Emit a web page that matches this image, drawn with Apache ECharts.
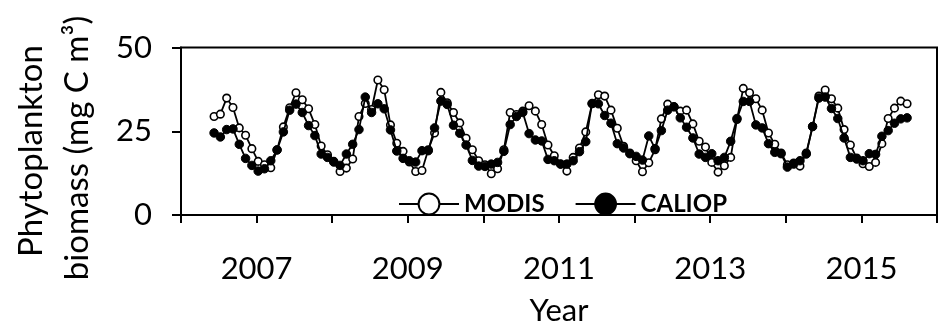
<!DOCTYPE html>
<html>
<head>
<meta charset="utf-8">
<script src="https://cdn.jsdelivr.net/npm/echarts@6/dist/echarts.min.js"></script>
<style>
  html, body { margin: 0; padding: 0; background: #fff; }
  #chart { width: 940px; height: 331px; }
</style>
</head>
<body>
<div id="chart"></div>
<script>
// Monthly phytoplankton biomass (mg C m^-3), June 2006 - August 2015
const startYear = 2006;
const startMonth = 6;

const modis = [
  29.4, 30.1, 34.9, 32.1, 26.0, 23.8, 19.8,
  16.0, 15.0, 14.1, 19.5, 26.3, 32.0, 36.5, 34.4, 31.7, 27.0, 20.6, 18.0,
  16.0, 13.0, 14.0, 16.7, 29.4, 33.3, 31.5, 40.3, 37.4, 26.9, 21.4, 19.0,
  15.8, 13.0, 13.3, 19.5, 24.5, 36.6, 33.5, 30.6, 27.5, 22.9, 19.5, 16.2,
  15.0, 12.3, 13.8, 19.5, 30.6, 30.0, 31.0, 32.6, 31.0, 27.0, 20.9, 17.7,
  15.2, 13.1, 17.2, 20.0, 24.8, 33.2, 35.9, 35.5, 31.3, 25.9, 20.5, 18.5,
  16.2, 12.9, 15.6, 19.5, 28.7, 33.1, 32.3, 31.0, 31.3, 27.2, 22.0, 20.3,
  15.7, 12.8, 14.7, 17.2, 28.5, 37.8, 36.5, 34.7, 31.3, 24.5, 21.1, 18.5,
  15.0, 15.5, 14.6, 18.5, 26.4, 35.5, 37.3, 34.7, 31.9, 25.5, 20.9, 17.0,
  15.3, 14.5, 15.7, 21.3, 28.8, 31.9, 34.0, 33.2
];

const caliop = [
  24.5, 23.3, 25.5, 25.7, 21.1, 16.9, 14.8,
  13.1, 13.8, 16.2, 19.4, 24.8, 31.3, 33.1, 30.6, 26.7, 23.7, 18.2, 17.2,
  15.8, 14.8, 18.2, 21.1, 25.5, 35.2, 30.6, 33.2, 31.7, 25.4, 19.1, 16.9,
  16.2, 15.8, 19.2, 19.2, 26.0, 34.0, 33.0, 26.8, 24.4, 20.9, 16.3, 14.6,
  14.5, 15.2, 15.7, 19.0, 27.0, 29.4, 30.6, 24.3, 22.4, 22.1, 16.6, 16.2,
  15.2, 15.2, 16.2, 18.9, 21.9, 33.3, 33.2, 29.7, 27.4, 21.3, 20.0, 18.3,
  17.5, 16.4, 23.6, 19.8, 25.2, 31.3, 32.3, 29.0, 26.2, 23.0, 18.2, 17.2,
  18.3, 16.2, 17.2, 22.0, 28.8, 33.9, 33.9, 26.9, 26.0, 21.3, 18.7, 18.3,
  14.3, 15.2, 16.2, 18.2, 26.4, 34.9, 35.2, 31.8, 28.8, 23.0, 17.2, 16.7,
  16.2, 18.3, 18.1, 23.5, 25.2, 27.4, 28.7, 29.0
];

const yTicks = [0, 25, 50];
const labelledYears = [2007, 2009, 2011, 2013, 2015];

// decimal year for the i-th monthly sample
function timeOf(i) {
  const m = startMonth - 1 + i;
  return startYear + Math.floor(m / 12) + ((m % 12) + 0.25) / 12;
}
const modisPts = modis.map((v, i) => [timeOf(i), v]);
const caliopPts = caliop.map((v, i) => [timeOf(i), v]);

const FONT = 'Lato';
const chart = echarts.init(document.getElementById('chart'), null, { renderer: 'canvas' });

chart.setOption({
  animation: false,
  backgroundColor: '#fff',
  grid: {
    left: 181, right: -8, top: 47.5, bottom: 112,
    show: true, borderColor: '#000', borderWidth: 2, backgroundColor: 'transparent'
  },
  xAxis: {
    type: 'value', min: 2006, max: 2016, interval: 1,
    axisLine: { lineStyle: { color: '#000', width: 2 } },
    axisTick: { show: true, inside: false, length: 8, lineStyle: { color: '#000', width: 2 } },
    splitLine: { show: false },
    axisLabel: {
      color: '#000', fontFamily: FONT, fontSize: 31, margin: 38,
      formatter: v => labelledYears.includes(v) ? String(v) : ''
    },
    name: 'Year', nameLocation: 'middle', nameGap: 80,
    nameTextStyle: { color: '#000', fontFamily: FONT, fontSize: 31 }
  },
  yAxis: {
    type: 'value', min: 0, max: 50, interval: 25,
    axisLine: { show: true, lineStyle: { color: '#000', width: 2 } },
    axisTick: { show: true, inside: false, length: 9, lineStyle: { color: '#000', width: 2 } },
    splitLine: { show: false },
    axisLabel: {
      color: '#000', fontFamily: FONT, fontSize: 31, margin: 29,
      formatter: v => yTicks.includes(v) ? String(v) : ''
    }
  },
  legend: {
    left: 393, top: 187, padding: 5,
    itemWidth: 60, itemHeight: 26, itemGap: 30,
    textStyle: { color: '#000', fontFamily: FONT, fontSize: 24, fontWeight: 'bold' },
    data: ['MODIS', 'CALIOP']
  },
  graphic: [
    {
      type: 'text', x: 31, y: 151, rotation: Math.PI / 2,
      style: { text: 'Phytoplankton', fill: '#000', font: '33px ' + FONT, textAlign: 'center', textVerticalAlign: 'middle' }
    },
    {
      type: 'text', x: 77, y: 148, rotation: Math.PI / 2,
      style: { text: 'biomass (mg C m³)', fill: '#000', font: '33px ' + FONT, textAlign: 'center', textVerticalAlign: 'middle' }
    }
  ],
  series: [
    {
      name: 'MODIS', type: 'line', data: modisPts,
      symbol: 'circle', symbolSize: 7.5, showAllSymbol: true,
      lineStyle: { color: '#000', width: 1.8 },
      itemStyle: { color: '#fff', borderColor: '#000', borderWidth: 1.6 },
      z: 2
    },
    {
      name: 'CALIOP', type: 'line', data: caliopPts,
      symbol: 'circle', symbolSize: 8.5, showAllSymbol: true,
      lineStyle: { color: '#000', width: 1.8 },
      itemStyle: { color: '#000', borderColor: '#000', borderWidth: 1 },
      z: 3
    }
  ]
});
</script>
</body>
</html>
